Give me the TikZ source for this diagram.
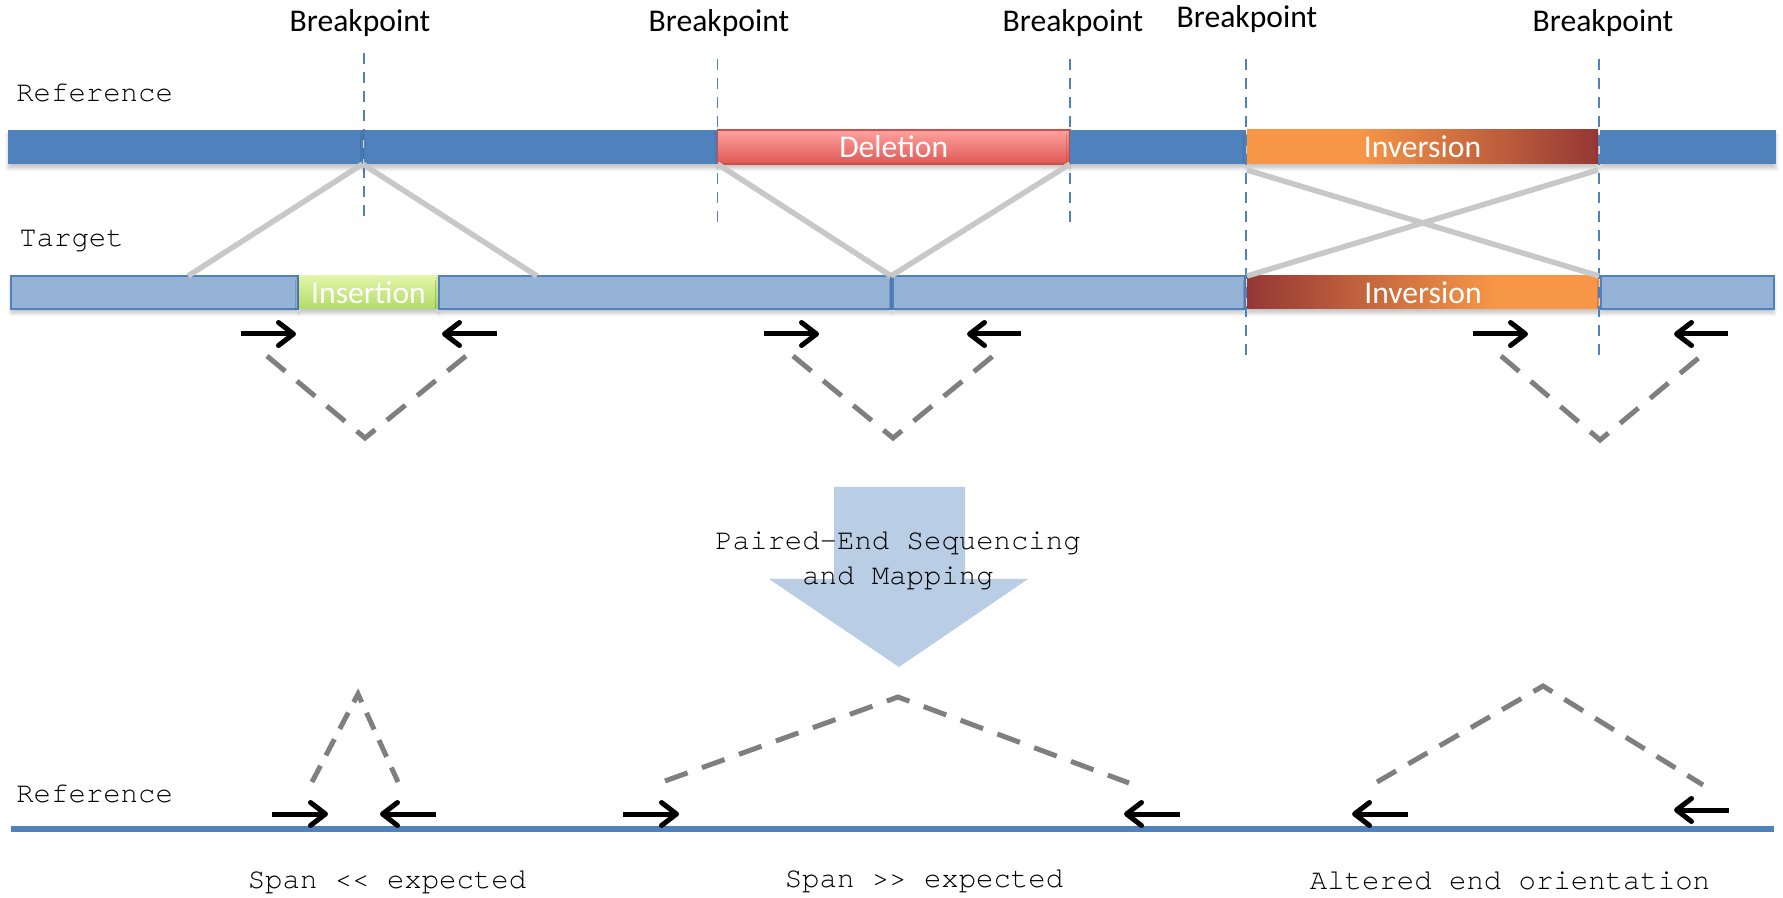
\documentclass[tikz,border=0pt]{standalone}
\usepackage{fontspec}
\setmainfont{Carlito}
\setmonofont{TeX Gyre Cursor}
\usetikzlibrary{arrows.meta,fit,shadows.blur}
\usepackage{xcolor}
\definecolor{refblue}{RGB}{79,129,189}
\definecolor{tgtblue}{RGB}{149,179,215}
\definecolor{arrowblue}{RGB}{185,205,229}
\definecolor{mapgray}{RGB}{200,200,200}
\definecolor{pairgray}{RGB}{127,127,127}
\definecolor{delpink}{RGB}{255,162,160}
\definecolor{delred}{RGB}{222,88,84}
\definecolor{delborder}{RGB}{200,80,77}
\definecolor{inslight}{RGB}{224,246,168}
\definecolor{insdark}{RGB}{180,219,104}
\definecolor{invorange}{RGB}{247,150,70}
\definecolor{invred}{RGB}{149,55,53}
\pgfdeclarehorizontalshading{invfwd}{100bp}{color(0bp)=(invorange); color(41bp)=(invorange); color(75bp)=(invred); color(100bp)=(invred)}
\pgfdeclarehorizontalshading{invrev}{100bp}{color(0bp)=(invred); color(25bp)=(invred); color(60bp)=(invorange); color(100bp)=(invorange)}

\begin{document}
\begin{tikzpicture}[
  x=0.2mm,y=-0.2mm,
  bar/.style={inner sep=0pt,outer sep=0pt,
              blur shadow={shadow xshift=0pt,shadow yshift=-0.9mm,
                           shadow opacity=22,shadow blur steps=6}},
  refbar/.style={bar,fill=refblue},
  tgtbar/.style={bar,fill=tgtblue,draw=refblue,line width=0.3mm},
  delbox/.style={bar,top color=delpink,bottom color=delred,draw=delborder,
                 line width=0.3mm},
  insbox/.style={bar,top color=inslight,bottom color=insdark},
  invbox/.style={bar},
  bartext/.style={text=white,font=\fontsize{18}{21}\selectfont,inner sep=0pt},
  bplabel/.style={font=\fontsize{18}{21}\selectfont,inner sep=1pt},
  bpline/.style={draw=refblue,line width=0.3mm,dash pattern=on 2.2mm off 1.6mm},
  lbl/.style={font=\ttfamily\fontsize{16.5}{20}\selectfont,inner sep=0pt},
  mapline/.style={draw=mapgray,line width=1.1mm},
  read/.style={draw=black,line width=1mm,
               -{Straight Barb[length=3mm,width=4.6mm,round]}},
  pairline/.style={draw=pairgray,line width=1mm,line join=miter},
  refline/.style={draw=refblue,line width=1.2mm}
]
  \useasboundingbox (0,0) rectangle (1783,898);

  %% ---- breakpoint labels and guide lines ----
  \node[bplabel] (bp1) at (360,23) {Breakpoint};
  \node[bplabel] (bp2) at (719,23) {Breakpoint};
  \node[bplabel] (bp3) at (1073,23) {Breakpoint};
  \node[bplabel] (bp4) at (1247,19) {Breakpoint};
  \node[bplabel] (bp5) at (1603,23) {Breakpoint};

  \draw[bpline] (364,53) -- (364,223);
  \draw[bpline] (717.5,59) -- (717.5,230);
  \draw[bpline] (1070,59) -- (1070,230);

  %% ---- reference (top) ----
  \node[lbl,anchor=west] (reftxt) at (16,93) {Reference};
  \node[refbar,fit={(8,130) (362.5,164)}] (refA) {};
  \node[refbar,fit={(364,130) (717.5,164)}] (refB) {};
  \node[delbox,fit={(717.5,130) (1070,164)},
        label={[bartext]center:Deletion}] (del) {};
  \node[refbar,fit={(1070,130) (1246,164)}] (refC) {};
  \node[invbox,shading=invfwd,fit={(1247,130) (1598,164)},
        label={[bartext]center:Inversion}] (invT) {};
  \node[refbar,fit={(1600,130) (1776,164)}] (refD) {};

  %% ---- target ----
  \node[lbl,anchor=west] (tgttxt) at (19,241) {Target};
  \node[tgtbar,fit={(11,276) (298,309)}] (tgtA) {};
  \node[insbox,fit={(299,276) (438,309)},
        label={[bartext]center:Insertion}] (ins) {};
  \node[tgtbar,fit={(439,276) (891,309)}] (tgtB) {};
  \node[tgtbar,fit={(893,276) (1245,309)}] (tgtC) {};
  \node[invbox,shading=invrev,fit={(1247,276) (1599,309)},
        label={[bartext]center:Inversion}] (invB) {};
  \node[tgtbar,fit={(1601,276) (1774,309)}] (tgtD) {};

  \draw[bpline] (1246,59) -- (1246,362);
  \draw[bpline] (1599,59) -- (1599,362);

  %% ---- mapping between reference and target ----
  \coordinate (insL) at (188,276);
  \coordinate (insR) at (537,276);
  \draw[mapline] (refA.south east) -- (insL);
  \draw[mapline] (refA.south east) -- (insR);
  \draw[mapline] (del.south west) -- (tgtB.north east);
  \draw[mapline] (del.south east) -- (tgtB.north east);
  \draw[mapline] ([yshift=-1.2mm]invT.south west) -- (invB.north east);
  \draw[mapline] ([yshift=-1.2mm]invT.south east) -- (invB.north west);

  %% ---- read pairs on the target ----
  \draw[read] (241,334) -- (296,334);
  \draw[read] (497,334) -- (442,334);
  \draw[pairline,dash pattern=on 4.75mm off 3.05mm] (267,356) -- (365,438) -- (466,356);

  \draw[read] (764,334) -- (819,334);
  \draw[read] (1021,334) -- (967,334);
  \draw[pairline,dash pattern=on 4.75mm off 3.05mm] (793,356) -- (893,438) -- (993,356);

  \draw[read] (1473,334) -- (1528,334);
  \draw[read] (1728,334) -- (1674,334);
  \draw[pairline,dash pattern=on 4.75mm off 3.05mm] (1501,356) -- (1600,440) -- (1701,356);

  %% ---- sequencing step ----
  \fill[arrowblue] (834,487) -- (965,487) -- (965,579) -- (1028,579)
                   -- (899,667) -- (769,579) -- (834,579) -- cycle;
  \node[lbl,align=center] (pem) at (898,561) {Paired-End Sequencing\\and Mapping};

  %% ---- reads mapped back to the reference ----
  \node[lbl,anchor=west] (reftxt2) at (16,794) {Reference};
  \draw[refline] (11,829) -- (1774,829);

  \draw[read] (272,814) -- (328,814);
  \draw[read] (436,814) -- (380,814);
  \draw[pairline,dash pattern=on 3.66mm off 2.34mm] (312,782) -- (358,694) -- (398,782);

  \draw[read] (623,814) -- (679,814);
  \draw[read] (1180,814) -- (1124,814);
  \draw[pairline,dash pattern=on 4.8mm off 3.06mm] (665,781) -- (898,697) -- (1129,783);

  \draw[read] (1408,814) -- (1352,814);
  \draw[read] (1729,810) -- (1674,810);
  \draw[pairline,dash pattern=on 4.41mm off 2.82mm] (1377,782) -- (1543,686) -- (1703,785);

  \node[lbl] (short) at (387,882) {Span << expected};
  \node[lbl] (long) at (924,881) {Span >> expected};
  \node[lbl] (orient) at (1510,881) {Altered end orientation};
\end{tikzpicture}
\end{document}
